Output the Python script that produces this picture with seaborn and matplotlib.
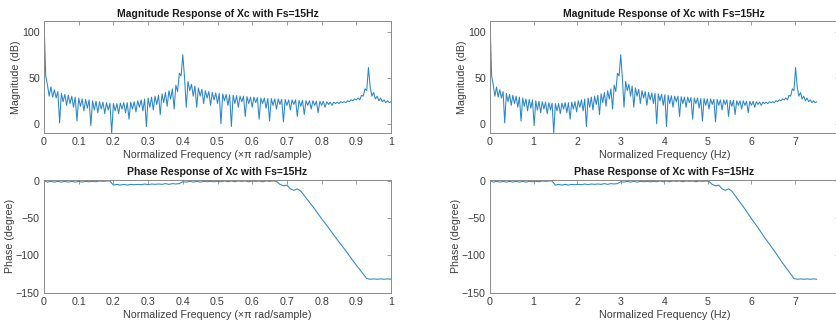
import numpy as np
import pandas as pd
import matplotlib
matplotlib.use("Agg")
import matplotlib.pyplot as plt
import seaborn as sns

# ---------------- data ----------------
# normalized frequency grid (x pi rad/sample) for the magnitude trace
mag_freq = np.linspace(0.0, 1.0, 201)
mag_db = [
    112, 52, 42, 30, 40, 29, 37, 28, 35, 1,
    33, 24, 32, 20, 31, 22, 30, 18, 29, 3,
    28, 19, 27, 14, 26.5, 17, 26, -2, 25, 15,
    24.5, 12, 24, 16, 23.5, 11, 23, 15, 22.5, -10,
    22, 14, 22, 11, 22.5, 16, 23, 12, 23, 5,
    23.5, 16, 24, 13, 25, 18, 26, 14, 27, -3,
    28, 18, 29, 15, 30, 21, 31, 10, 32.5, 23,
    34, 19, 36, 27, 38, 16, 42, 35, 55, 52,
    75, 50, 18, 46, 36, 43, 30, 41, 18, 39,
    30, 37.5, 22, 36, 28, 35, 20, 34, 26, 33.5,
    22, 33, 0, 32.5, 25, 32, 20, 31.5, -3, 31,
    22, 30.5, 18, 30, 24, 30, 8, 29.5, 22, 29,
    18, 29, 23, 28.5, 5, 28, 22, 28, 17, 27.5,
    3, 27.5, 20, 27, 16, 27, 21, 26.5, 2, 26.5,
    20, 26, 15, 26, 21, 26, 8, 25.5, 19, 25.5,
    10, 25, 20, 25, 16, 25, 20, 24.5, 12, 24.5,
    20, 24.5, 18, 24, 21, 23.5, 20, 23.5, 22, 23.5,
    22, 24, 23, 24, 23, 25, 24, 26, 25, 27,
    26, 28, 26, 31, 30, 38, 36, 61, 40, 30,
    34, 27, 30, 25, 28, 24, 26, 23, 25, 23,
    24,
]

# phase trace, normalized frequency grid step 0.01
ph_freq = np.linspace(0.0, 1.0, 101)
phase_deg = [
    0, -2, -1, -2, -1, -2, -1, -2, -1, -2,
    -1, -2, -1, -1.5, -1, -1.5, -0.5, -1, -0.5, -0.5,
    -6, -5, -6, -5, -6, -5, -5.5, -5, -5.5, -4.5,
    -5.5, -4.5, -5, -4.5, -5, -4, -5, -4, -4.5, -4,
    -1.5, -2, -1, -2, -1, -2, -1, -1.5, -1, -1.5,
    -1, -1.5, -0.5, -1.5, -0.5, -1.5, -0.5, -1, -0.5, -1.5,
    -0.5, -1, -0.5, -1.5, -0.5, -1, -0.5, -1,
    -5, -7, -6, -11, -13, -11, -14,
    -20, -26, -32, -38, -44.5, -51, -57, -63, -69.5, -76,
    -82, -88, -94, -100.5, -107, -113, -119, -125, -131,
    -132, -131.5, -132, -131.5, -132, -131.5, -132,
]

fs_half = 7.5  # Hz (Fs = 15 Hz)

left_xticks = [0, 0.1, 0.2, 0.3, 0.4, 0.5, 0.6, 0.7, 0.8, 0.9, 1]
left_xticklabels = ["0", "0.1", "0.2", "0.3", "0.4", "0.5", "0.6", "0.7", "0.8", "0.9", "1"]
right_xticks = [0, 1, 2, 3, 4, 5, 6, 7, 8]
right_xticklabels = ["0", "1", "2", "3", "4", "5", "6", "7", ""]
mag_yticks = [0, 50, 100]
ph_yticks = [-150, -100, -50, 0]

title_mag = "Magnitude Response of Xc with Fs=15Hz"
title_ph = "Phase Response of Xc with Fs=15Hz"
xlabel_norm = "Normalized Frequency (×π rad/sample)"
xlabel_hz = "Normalized Frequency (Hz)"
ylabel_mag = "Magnitude (dB)"
ylabel_ph = "Phase (degree)"

# ---------------- styling ----------------
sns.set_style("white")
plt.rcParams["font.family"] = ["Liberation Sans", "DejaVu Sans"]
line_color = "#2a86cc"
txt_color = "#3c3c3c"
spine_color = "#8a8a8a"

W, H = 836, 325
fig = plt.figure(figsize=(W / 100, H / 100), dpi=100)


def pos(x0, y0, x1, y1):
    return [x0 / W, 1 - y1 / H, (x1 - x0) / W, (y1 - y0) / H]


ax_lm = fig.add_axes(pos(44, 20.7, 391, 133))
ax_lp = fig.add_axes(pos(44, 179.5, 391, 292.7))
ax_rm = fig.add_axes(pos(490, 20.7, 838.6, 133))
ax_rp = fig.add_axes(pos(490, 179.5, 838.6, 292.7))

df_mag = pd.DataFrame({"f": mag_freq, "hz": mag_freq * fs_half, "db": mag_db})
df_ph = pd.DataFrame({"f": ph_freq, "hz": ph_freq * fs_half, "deg": phase_deg})

kw = dict(color=line_color, linewidth=0.75, estimator=None, sort=False)
sns.lineplot(data=df_mag, x="f", y="db", ax=ax_lm, **kw)
sns.lineplot(data=df_ph, x="f", y="deg", ax=ax_lp, **kw)
sns.lineplot(data=df_mag, x="hz", y="db", ax=ax_rm, **kw)
sns.lineplot(data=df_ph, x="hz", y="deg", ax=ax_rp, **kw)


def style(ax, xlim, ylim, xticks, yticks, title, xlabel, ylabel, xticklabels):
    ax.set_xlim(*xlim)
    ax.set_ylim(*ylim)
    ax.set_xticks(xticks)
    ax.set_xticklabels(xticklabels)
    ax.set_yticks(yticks)
    ax.set_title(title, fontsize=7.5, fontweight="bold", color="#1a1a1a", pad=3)
    ax.set_xlabel(xlabel, fontsize=7.7, color=txt_color, labelpad=2)
    ax.set_ylabel(ylabel, fontsize=7.7, color=txt_color, labelpad=1)
    ax.tick_params(direction="in", length=3, width=0.6, colors=spine_color,
                   labelcolor=txt_color, labelsize=7.7, top=True, right=True, pad=3)
    for s in ax.spines.values():
        s.set_visible(True)
        s.set_color(spine_color)
        s.set_linewidth(0.7)


style(ax_lm, (0, 1), (-10, 112), left_xticks, mag_yticks, title_mag, xlabel_norm,
      ylabel_mag, left_xticklabels)
style(ax_lp, (0, 1), (-150, 1.5), left_xticks, ph_yticks, title_ph, xlabel_norm,
      ylabel_ph, left_xticklabels)
style(ax_rm, (0, 8), (-10, 112), right_xticks, mag_yticks, title_mag, xlabel_hz,
      ylabel_mag, right_xticklabels)
style(ax_rp, (0, 8), (-150, 1.5), right_xticks, ph_yticks, title_ph, xlabel_hz,
      ylabel_ph, right_xticklabels)

fig.savefig("out.png", dpi=100)
